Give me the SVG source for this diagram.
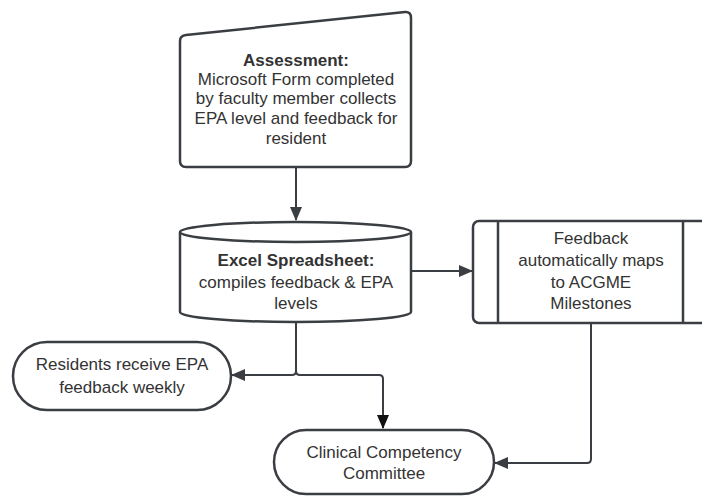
<svg xmlns="http://www.w3.org/2000/svg" width="702" height="496" viewBox="0 0 702 496">
<defs>
<style>
.shape{fill:#fff;stroke:#3a3d42;stroke-width:2.5;stroke-linejoin:round}
.conn{fill:none;stroke:#3a3d42;stroke-width:2}
.t{font-family:"Liberation Sans",Arial,sans-serif;font-size:17px;fill:#333;text-anchor:middle}
.b{font-weight:bold}
</style>
<marker id="arr" markerUnits="userSpaceOnUse" markerWidth="14" markerHeight="12" refX="13" refY="6" orient="auto">
<path d="M0,0 L14,6 L0,12 Z" fill="#3a3d42"/>
</marker>
<marker id="arrk" markerUnits="userSpaceOnUse" markerWidth="14" markerHeight="12" refX="13" refY="6" orient="auto">
<path d="M0,0 L14,6 L0,12 Z" fill="#111"/>
</marker>
</defs>
<rect width="702" height="496" fill="#fff"/>
<g id="connectors">
<path class="conn" d="M296,168 V220" marker-end="url(#arr)"/>
<path class="conn" d="M412,271 H472" marker-end="url(#arr)"/>
<path class="conn" d="M296,322 V371 Q296,375 292,375 H232" marker-end="url(#arr)"/>
<path class="conn" d="M296,371 Q296,375 300,375 H379 Q383,375 383,379 V428" stroke="#111" stroke-width="2.3" marker-end="url(#arrk)"/>
<path class="conn" d="M591,323 V459 Q591,463 587,463 H495" marker-end="url(#arr)"/>
</g>
<g id="assessment">
<path class="shape" d="M186,35 L405,12 Q411,11.5 411,18 V161 Q411,167 405,167 H186 Q180,167 180,161 V41 Q180,35.6 186,35 Z"/>
<text class="t b" x="296" y="66">Assessment:</text>
<text class="t" x="296" y="85">Microsoft Form completed</text>
<text class="t" x="296" y="104">by faculty member collects</text>
<text class="t" x="296" y="124">EPA level and feedback for</text>
<text class="t" x="296" y="144">resident</text>
</g>
<g id="spreadsheet">
<path class="shape" d="M180,232 V312 A115.5,10 0 0 0 411,312 V232"/>
<ellipse class="shape" cx="295.5" cy="232" rx="115.5" ry="10"/>
<text class="t b" x="296" y="266">Excel Spreadsheet:</text>
<text class="t" x="296" y="288">compiles feedback &amp; EPA</text>
<text class="t" x="296" y="309">levels</text>
</g>
<g id="milestones">
<rect class="shape" x="473" y="221" width="236" height="102" rx="6"/>
<line class="shape" x1="498" y1="221" x2="498" y2="323"/>
<line class="shape" x1="683" y1="221" x2="683" y2="323"/>
<text class="t" x="591" y="244">Feedback</text>
<text class="t" x="591" y="266">automatically maps</text>
<text class="t" x="591" y="288">to ACGME</text>
<text class="t" x="591" y="309">Milestones</text>
</g>
<g id="residents">
<rect class="shape" x="13" y="342" width="218" height="68" rx="34"/>
<text class="t" x="122" y="370">Residents receive EPA</text>
<text class="t" x="122" y="393">feedback weekly</text>
</g>
<g id="ccc">
<rect class="shape" x="274" y="430" width="220" height="64" rx="32"/>
<text class="t" x="384" y="458">Clinical Competency</text>
<text class="t" x="384" y="479">Committee</text>
</g>
</svg>
